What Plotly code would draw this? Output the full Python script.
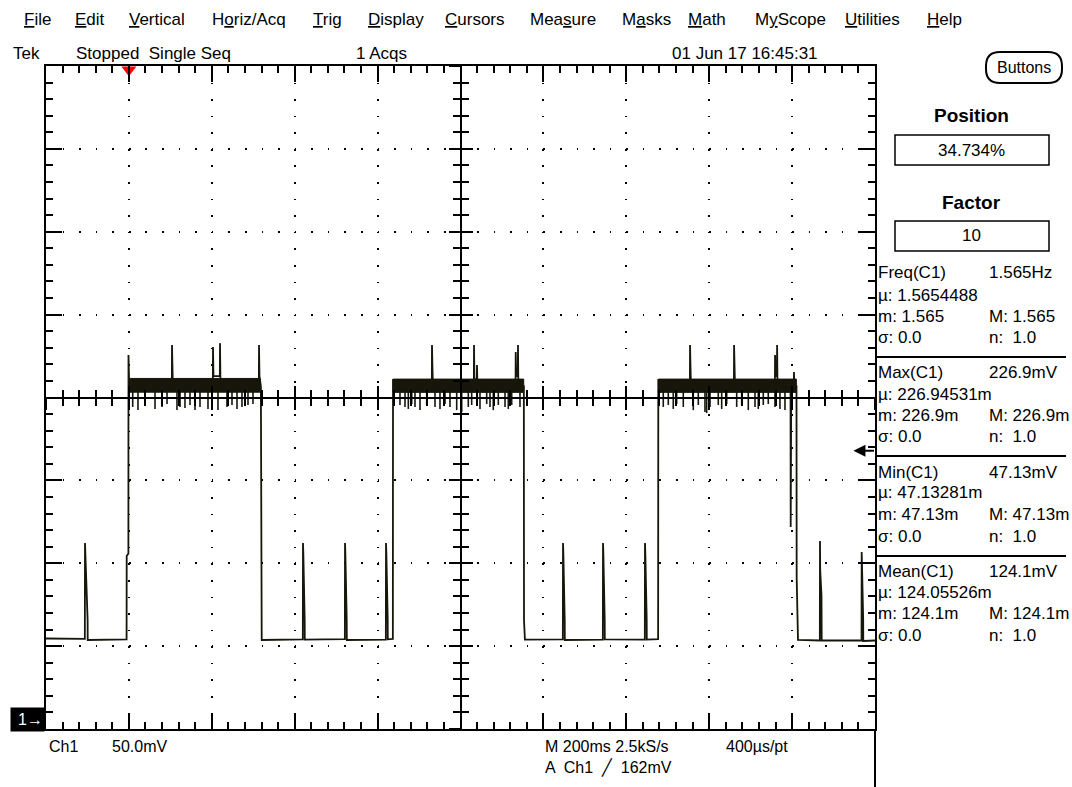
import plotly.graph_objects as go

# ---------------- data (time in ms, voltage in mV) ----------------
x_range = [-200.0, 1800.0]      # M 200 ms/div, 10 div
y_range = [-5.9, 394.1]         # 50 mV/div, 8 div, ground marker at 0 mV

wave_t = [-200.0, -106.3, -105.9, -105.0, -99.6, -99.4, -5.6, -5.3, -1.2, -1.0, 0.8,
          103.6, 104.0, 104.8, 106.0, 202.5, 202.9, 204.0, 219.4, 219.8, 221.0,
          313.5, 313.9, 315.0, 318.4, 318.7, 320.4,
          419.6, 420.0, 420.8, 424.1, 424.3, 521.0, 521.4, 522.2, 525.5, 525.7,
          619.9, 620.3, 621.1, 624.4, 624.6, 636.8, 637.2,
          730.8, 731.2, 732.2, 733.4, 832.2, 832.6, 833.6, 839.4, 839.8, 840.8,
          932.8, 933.2, 934.4, 938.3, 938.7, 939.6, 952.8, 953.2, 955.4,
          1046.9, 1047.3, 1048.1, 1051.4, 1051.6, 1143.4, 1143.8, 1144.6, 1147.9, 1148.1,
          1244.7, 1245.1, 1245.9, 1249.2, 1249.4, 1276.8, 1277.2,
          1353.4, 1353.8, 1354.8, 1356.0, 1459.6, 1460.0, 1461.0, 1462.2,
          1558.5, 1558.9, 1560.0, 1563.4, 1563.8, 1564.8,
          1596.2, 1596.6, 1597.2, 1598.0, 1604.1, 1604.5, 1605.4, 1610.6, 1611.0, 1614.2,
          1666.9, 1667.3, 1667.8, 1670.9, 1671.4, 1767.5, 1767.9, 1768.5, 1771.5, 1771.7, 1800.0]
wave_v = [48.7, 48.5, 106.3, 100.3, 59.9, 47.8, 48.2, 98.5, 100.0, 219.8, 201.0,
          201.0, 225.8, 215.5, 201.0, 201.0, 224.6, 207.0, 207.0, 226.9, 201.0,
          201.0, 225.8, 207.0, 201.0, 59.9, 47.8,
          48.2, 106.3, 100.3, 59.9, 48.0, 48.3, 106.3, 100.3, 59.9, 47.8,
          48.0, 106.3, 100.3, 59.9, 48.2, 48.4, 204.6,
          201.0, 225.8, 213.7, 201.0, 201.0, 225.8, 205.0, 205.0, 213.7, 201.0,
          201.0, 221.6, 207.0, 207.0, 225.8, 201.0, 201.0, 59.9, 48.0,
          48.2, 106.3, 100.3, 59.9, 47.8, 48.0, 106.3, 100.3, 59.9, 48.2,
          48.0, 106.3, 100.3, 59.9, 48.0, 48.3, 204.6,
          201.0, 225.8, 213.7, 201.0, 201.0, 225.8, 213.7, 201.0,
          201.0, 219.8, 207.0, 207.0, 225.8, 201.0,
          201.0, 116.0, 135.3, 201.0, 201.0, 209.5, 201.0, 201.0, 85.8, 47.8,
          47.5, 107.5, 90.0, 75.0, 47.5, 47.5, 100.9, 94.3, 59.9, 47.2, 47.5]

# dense noise band on the high level
band_start = [0.8, 637.5, 1277.5]
band_end = [316.5, 952.5, 1610.3]
band_top = [205.6, 205.2, 205.2]
band_bottom = [197.3, 197.2, 197.2]

# downward glitches in the high level
dip_t = [9.2, 21.9, 38.8, 63.0, 79.9, 92.0, 116.0, 123.3, 135.3, 147.4, 159.5, 171.5,
         190.8, 214.9, 236.6, 248.7, 260.8, 272.8, 287.3, 299.4,
         654.0, 666.1, 674.1, 682.3, 690.2, 702.3, 718.4, 738.5, 750.5, 762.6, 774.6, 790.8,
         802.9, 818.8, 827.0, 847.0, 863.2, 871.2, 879.1, 891.2, 907.4, 915.3, 923.5, 943.5,
         1289.2, 1301.3, 1313.3, 1321.5, 1337.5, 1361.6, 1373.7, 1389.8, 1393.9, 1401.9,
         1421.9, 1430.1, 1442.2, 1466.3, 1478.4, 1494.3, 1510.5, 1518.4, 1530.5, 1542.5,
         1558.7, 1570.7, 1582.8]
dip_v = [188.4, 186.5, 189.0, 187.2, 188.4, 190.2, 186.5, 188.4, 187.8, 189.6, 186.5, 188.4,
         187.2, 186.5, 188.4, 189.6, 187.2, 188.4, 189.6, 190.2,
         189.6, 188.4, 187.2, 190.2, 188.4, 186.5, 189.6, 188.4, 187.2, 190.2, 188.4, 186.5,
         185.3, 188.4, 189.6, 187.2, 190.2, 188.4, 186.5, 189.6, 188.4, 187.2, 189.6, 188.4,
         188.4, 189.6, 187.2, 190.2, 188.4, 186.5, 189.6, 185.3, 184.7, 188.4,
         189.6, 187.2, 190.2, 188.4, 189.6, 186.5, 188.4, 187.2, 189.6, 190.2,
         188.4, 187.2, 186.5]

trigger_time = [0.0]
trigger_level = [162.0]

menu_items = ["<u>F</u>ile", "<u>E</u>dit", "<u>V</u>ertical", "H<u>o</u>riz/Acq", "<u>T</u>rig",
              "<u>D</u>isplay", "<u>C</u>ursors", "Mea<u>s</u>ure", "M<u>a</u>sks", "<u>M</u>ath",
              "M<u>y</u>Scope", "<u>U</u>tilities", "<u>H</u>elp"]
menu_x = [22, 73, 127, 210, 311, 366, 443, 528, 620, 686, 753, 843, 925]

meas_rows = [
    ("Freq(C1)", "1.565Hz", 272), ("µ: 1.5654488", "", 295), ("m: 1.565", "M: 1.565", 316), ("σ: 0.0", "n:  1.0", 337),
    ("Max(C1)", "226.9mV", 372), ("µ: 226.94531m", "", 394), ("m: 226.9m", "M: 226.9m", 415), ("σ: 0.0", "n:  1.0", 436),
    ("Min(C1)", "47.13mV", 472), ("µ: 47.13281m", "", 493), ("m: 47.13m", "M: 47.13m", 514), ("σ: 0.0", "n:  1.0", 536),
    ("Mean(C1)", "124.1mV", 571), ("µ: 124.05526m", "", 592), ("m: 124.1m", "M: 124.1m", 613), ("σ: 0.0", "n:  1.0", 635),
]
sep_y = [357, 456, 556]

# ---------------- geometry helpers (pixels -> paper) ----------------
L, T, PW, PH = 46, 66, 829, 663


def X(p):
    return (p - L) / PW


def Y(p):
    return (T + PH - p) / PH


FONT = "Liberation Sans, Arial, sans-serif"
INK = "#16160a"

fig = go.Figure()

# noise band
bx, by = [], []
for s, e, tp, bt in zip(band_start, band_end, band_top, band_bottom):
    bx += [s, e, e, s, s, None]
    by += [tp, tp, bt, bt, tp, None]
fig.add_trace(go.Scatter(x=bx, y=by, mode="lines", fill="toself", fillcolor=INK,
                         line=dict(color=INK, width=1), hoverinfo="skip", showlegend=False))

# downward glitches
dx, dy = [], []
for t, v in zip(dip_t, dip_v):
    dx += [t, t, None]
    dy += [199.0, v, None]
fig.add_trace(go.Scatter(x=dx, y=dy, mode="lines", line=dict(color=INK, width=1.6),
                         hoverinfo="skip", showlegend=False))

# main waveform
fig.add_trace(go.Scatter(x=wave_t, y=wave_v, mode="lines", line=dict(color=INK, width=1.8),
                         showlegend=False))

# trigger position marker
fig.add_trace(go.Scatter(x=trigger_time, y=[y_range[1] - 2.3], mode="markers", cliponaxis=False,
                         marker=dict(symbol="triangle-down", size=13, color="#ff0000"),
                         showlegend=False))

# empty traces so that the centre cross-hair axes get drawn
for xa, ya in (("x2", "y2"), ("x3", "y3")):
    fig.add_trace(go.Scatter(x=[x_range[0]], y=[y_range[0]], mode="markers", xaxis=xa, yaxis=ya,
                             marker=dict(size=1, opacity=0), hoverinfo="skip", showlegend=False))

tick_common = dict(tickcolor="black", tickwidth=1.5, showticklabels=False, zeroline=False,
                   linecolor="black", linewidth=2, showline=True, fixedrange=True)

fig.update_layout(
    width=1072, height=787,
    margin=dict(l=L, r=1072 - L - PW, t=T, b=787 - T - PH, pad=0, autoexpand=False),
    paper_bgcolor="white", plot_bgcolor="white",
    xaxis=dict(range=x_range, tickmode="linear", tick0=x_range[0], dtick=200,
               ticks="inside", ticklen=16, mirror="allticks",
               showgrid=True, gridcolor="black", gridwidth=1.6, griddash="1.6px,14.98px",
               minor=dict(tickmode="linear", tick0=x_range[0], dtick=40, ticks="inside", ticklen=7,
                          tickcolor="black", tickwidth=1.5, showgrid=False),
               **tick_common),
    yaxis=dict(range=y_range, tickmode="linear", tick0=y_range[0], dtick=50,
               ticks="inside", ticklen=16, mirror="allticks",
               showgrid=True, gridcolor="black", gridwidth=1.6, griddash="1.6px,14.98px",
               minor=dict(tickmode="linear", tick0=y_range[0], dtick=10, ticks="inside", ticklen=7,
                          tickcolor="black", tickwidth=1.5, showgrid=False),
               **tick_common),
)

# centre cross-hair axes (ticks on both sides)
for name, side_ticks in (("xaxis2", "outside"), ("xaxis3", "inside")):
    fig.layout[name] = dict(overlaying="x", anchor="free", position=0.5, side="bottom",
                            range=x_range, tickmode="linear", tick0=x_range[0], dtick=200,
                            ticks=side_ticks, ticklen=11, showgrid=False,
                            minor=dict(tickmode="linear", tick0=x_range[0], dtick=40, ticks=side_ticks,
                                       ticklen=7, tickcolor="black", tickwidth=1.5, showgrid=False),
                            **tick_common)
for name, side_ticks in (("yaxis2", "outside"), ("yaxis3", "inside")):
    fig.layout[name] = dict(overlaying="y", anchor="free", position=0.5, side="left",
                            range=y_range, tickmode="linear", tick0=y_range[0], dtick=50,
                            ticks=side_ticks, ticklen=11, showgrid=False,
                            minor=dict(tickmode="linear", tick0=y_range[0], dtick=10, ticks=side_ticks,
                                       ticklen=7, tickcolor="black", tickwidth=1.5, showgrid=False),
                            **tick_common)

ann = []


def txt(px, py, s, size=16, anchor="left", bold=False, family=FONT, color="black"):
    ann.append(dict(x=X(px), y=Y(py), xref="paper", yref="paper", text=("<b>%s</b>" % s) if bold else s,
                    showarrow=False, xanchor=anchor, yanchor="middle",
                    font=dict(size=size, family=family, color=color)))


for item, mx in zip(menu_items, menu_x):
    txt(mx, 19, item, size=17)

txt(11, 53, "Tek", size=17)
txt(74, 53, "Stopped  Single Seq", size=17)
txt(354, 53, "1 Acqs", size=17)
txt(670, 53, "01 Jun 17 16:45:31", size=17)

txt(47, 747, "Ch1", size=16)
txt(110, 747, "50.0mV", size=16)
txt(543, 747, "M 200ms 2.5kS/s", size=16)
txt(724, 747, "400µs/pt", size=16)
txt(543, 767, "A  Ch1  ╱  162mV", size=16)

txt(1024, 67, "Buttons", size=16, anchor="center")
txt(971, 116, "Position", size=19, anchor="center", bold=True)
txt(971, 150, "34.734%", size=17, anchor="center")
txt(971, 202, "Factor", size=19, anchor="center", bold=True)
txt(971, 236, "10", size=17, anchor="center")

for left, right, yy in meas_rows:
    txt(876, yy, left, size=17)
    if right:
        txt(987, yy, right, size=17)

# channel-1 ground marker
ann.append(dict(x=X(45), y=0, xref="paper", yref="y", text="1→", showarrow=False,
                xanchor="right", yanchor="middle", bgcolor="black", width=31, height=21,
                align="right", font=dict(size=16, family=FONT, color="white")))
# trigger level arrow
ann.append(dict(x=x_range[1] - 52, y=trigger_level[0], xref="x", yref="y", text="", showarrow=True,
                ax=22, ay=0, arrowhead=2, arrowsize=1.2, arrowwidth=2, arrowcolor="black"))

shapes = []
# panel separator (continuation of right graticule edge)
shapes.append(dict(type="line", xref="paper", yref="paper", x0=1, x1=1, y0=Y(787), y1=0,
                   line=dict(color="black", width=2)))
for sy in sep_y:
    shapes.append(dict(type="line", xref="paper", yref="paper", x0=X(876), x1=X(1066), y0=Y(sy), y1=Y(sy),
                       line=dict(color="black", width=2)))
for y0, y1 in ((135, 165), (221, 251)):
    shapes.append(dict(type="rect", xref="paper", yref="paper", x0=X(895), x1=X(1049), y0=Y(y1), y1=Y(y0),
                       line=dict(color="black", width=1.5)))
# rounded "Buttons" box
bx0, bx1, by0, by1, r = 986, 1062, 52, 83, 14
path = ("M {a},{b} L {c},{b} Q {d},{b} {d},{e} L {d},{f} Q {d},{g} {c},{g} L {a},{g} "
        "Q {h},{g} {h},{f} L {h},{e} Q {h},{b} {a},{b} Z").format(
    a=X(bx0 + r), b=Y(by0), c=X(bx1 - r), d=X(bx1), e=Y(by0 + r), f=Y(by1 - r), g=Y(by1), h=X(bx0))
shapes.append(dict(type="path", xref="paper", yref="paper", path=path, line=dict(color="black", width=2)))

fig.update_layout(annotations=ann, shapes=shapes)

fig.write_html("out.html", config={"displayModeBar": False},
               post_script="document.body.style.margin='0';")
